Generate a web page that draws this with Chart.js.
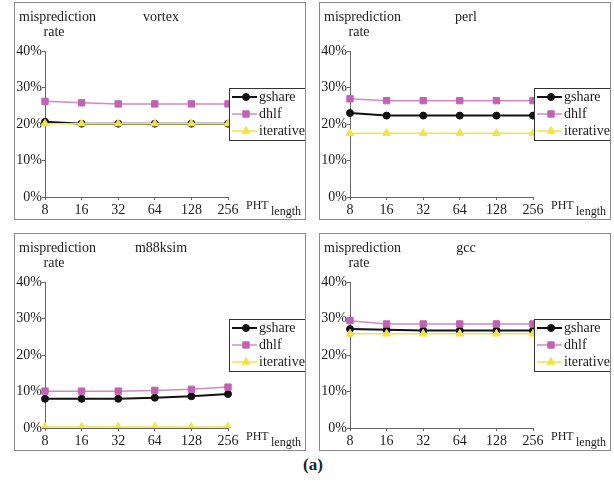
<!DOCTYPE html>
<html>
<head>
<meta charset="utf-8">
<script src="https://cdn.jsdelivr.net/npm/chart.js@4/dist/chart.umd.min.js"></script>
<style>
  body { margin: 0; background: #fff; width: 614px; height: 491px; position: relative; overflow: hidden; }
  .panel { position: absolute; border: 1px solid #8a8a8a; width: 290px; height: 216px; }
  .panel canvas { display: block; }
  #caption { position: absolute; left: 0; width: 626px; top: 455px; text-align: center;
    font: bold 17px "Liberation Serif", serif; color: #222; }
</style>
</head>
<body>
<div class="panel" style="left:14px;top:2px"><canvas id="c1" width="290" height="216"></canvas></div>
<div class="panel" style="left:319px;top:2px"><canvas id="c2" width="290" height="216"></canvas></div>
<div class="panel" style="left:14px;top:233px"><canvas id="c3" width="290" height="216"></canvas></div>
<div class="panel" style="left:319px;top:233px"><canvas id="c4" width="290" height="216"></canvas></div>
<div id="caption">(a)</div>
<script>
const phtLengths = ['8', '16', '32', '64', '128', '256'];
const seriesNames = ['gshare', 'dhlf', 'iterative'];
const yTicks = [0, 10, 20, 30, 40];

// misprediction rate in %
const vortexGshare = [20.6, 20.1, 20.1, 20.1, 20.1, 20.1];
const vortexDhlf = [26.2, 25.8, 25.5, 25.5, 25.5, 25.5];
const vortexIterative = [20.1, 20.1, 20.1, 20.1, 20.1, 20.1];

const perlGshare = [23.0, 22.3, 22.3, 22.3, 22.3, 22.3];
const perlDhlf = [26.9, 26.4, 26.4, 26.4, 26.4, 26.4];
const perlIterative = [17.5, 17.5, 17.5, 17.5, 17.5, 17.5];

const m88ksimGshare = [8.0, 8.0, 8.0, 8.3, 8.7, 9.3];
const m88ksimDhlf = [10.1, 10.1, 10.1, 10.3, 10.6, 11.2];
const m88ksimIterative = [0.3, 0.3, 0.3, 0.3, 0.3, 0.3];

const gccGshare = [27.1, 26.9, 26.7, 26.7, 26.7, 26.7];
const gccDhlf = [29.4, 28.5, 28.5, 28.5, 28.5, 28.5];
const gccIterative = [25.8, 25.8, 25.8, 25.8, 25.8, 25.8];

const serif = '"Liberation Serif", "Times New Roman", serif';
const ink = '#1a1a1a';

const styles = [
  { color: '#111111', line: '#111111', point: 'circle', radius: 3.5, width: 2, order: 2 },
  { color: '#c262b4', line: '#d488c8', point: 'rect', radius: 4.5, width: 1.5, order: 1 },
  { color: '#f3e349', line: '#f3e349', point: 'triangle', radius: 4.5, width: 1.5, order: 0 }
];

// extra texts: y label, benchmark name, x label with subscript, boxed legend
const decorations = {
  id: 'decorations',
  afterDraw(chart, args, opts) {
    const ctx = chart.ctx;
    const area = chart.chartArea;
    ctx.save();
    ctx.fillStyle = ink;
    ctx.textBaseline = 'middle';
    ctx.font = '14px ' + serif;
    ctx.textAlign = 'left';
    ctx.fillText('misprediction', 4, 14);
    ctx.textAlign = 'center';
    ctx.fillText('rate', 39, 29);
    ctx.fillText(opts.name, 146, 14);

    ctx.textAlign = 'left';
    ctx.font = '12px ' + serif;
    ctx.fillText('PHT', area.right + 18, area.bottom + 9);
    ctx.fillText('length', area.right + 43, area.bottom + 15);

    // legend box
    const bx = area.right + 1, by = 85, bw = chart.width - bx, bh = 52;
    ctx.fillStyle = '#fff';
    ctx.fillRect(bx, by, bw, bh);
    ctx.strokeStyle = '#333';
    ctx.lineWidth = 1;
    ctx.strokeRect(bx + 0.5, by + 0.5, bw, bh);
    chart.data.datasets.forEach((ds, i) => {
      const y = by + 9 + i * 17;
      const st = styles[i];
      ctx.strokeStyle = st.line;
      ctx.lineWidth = st.width;
      ctx.beginPath();
      ctx.moveTo(bx + 3, y);
      ctx.lineTo(bx + 28, y);
      ctx.stroke();
      ctx.fillStyle = st.color;
      ctx.strokeStyle = st.color;
      ctx.lineWidth = 1;
      Chart.helpers.drawPoint(ctx, {
        pointStyle: st.point, radius: st.radius, rotation: 0, borderWidth: 1
      }, bx + 17, y);
      ctx.fillStyle = ink;
      ctx.font = '14px ' + serif;
      ctx.textAlign = 'left';
      ctx.fillText(ds.label, bx + 30, y);
    });
    ctx.restore();
  }
};

function makeChart(id, name, values) {
  new Chart(document.getElementById(id), {
    type: 'line',
    data: {
      labels: phtLengths,
      datasets: values.map((v, i) => ({
        label: seriesNames[i],
        data: v,
        order: styles[i].order,
        borderColor: styles[i].line,
        backgroundColor: styles[i].color,
        pointBackgroundColor: styles[i].color,
        pointBorderColor: styles[i].color,
        pointBorderWidth: 1,
        pointStyle: styles[i].point,
        pointRadius: styles[i].radius,
        borderWidth: styles[i].width,
        tension: 0
      }))
    },
    options: {
      responsive: false,
      animation: false,
      layout: { padding: { top: 48, right: 77, left: 0, bottom: 0 } },
      plugins: {
        legend: { display: false },
        title: { display: false },
        tooltip: { enabled: false },
        decorations: { name: name }
      },
      scales: {
        x: {
          offset: false,
          grid: { drawOnChartArea: false, tickLength: 3, color: '#666' },
          border: { color: '#666' },
          ticks: { color: ink, font: { family: serif, size: 14 }, padding: 2, maxRotation: 0, autoSkip: false },
          afterFit: s => { s.height = 22; }
        },
        y: {
          min: 0,
          max: 40,
          afterBuildTicks: s => { s.ticks = yTicks.map(v => ({ value: v })); },
          grid: { drawOnChartArea: false, tickLength: 3, color: '#666' },
          border: { color: '#666' },
          ticks: { color: ink, font: { family: serif, size: 14 }, padding: 0, callback: v => v + '%' },
          afterFit: s => { s.width = 30; }
        }
      }
    },
    plugins: [decorations]
  });
}

makeChart('c1', 'vortex', [vortexGshare, vortexDhlf, vortexIterative]);
makeChart('c2', 'perl', [perlGshare, perlDhlf, perlIterative]);
makeChart('c3', 'm88ksim', [m88ksimGshare, m88ksimDhlf, m88ksimIterative]);
makeChart('c4', 'gcc', [gccGshare, gccDhlf, gccIterative]);
</script>
</body>
</html>
